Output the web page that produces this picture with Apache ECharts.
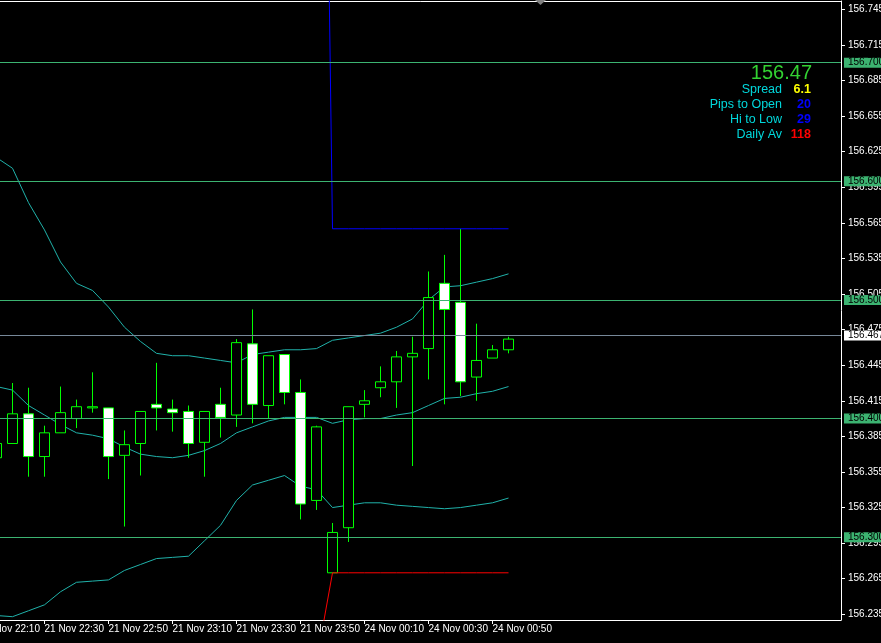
<!DOCTYPE html>
<html>
<head>
<meta charset="utf-8">
<script src="https://cdn.jsdelivr.net/npm/echarts@6/dist/echarts.min.js"></script>
<style>
html,body{margin:0;padding:0;background:#000;overflow:hidden;}
#c{width:881px;height:643px;}
</style>
</head>
<body>
<div id="c"></div>
<script>
// ---- DATA ----
// bar times, bar index -2 .. 31 (5-minute bars)
const barTimes = [
  '21 Nov 22:10','21 Nov 22:15','21 Nov 22:20','21 Nov 22:25','21 Nov 22:30','21 Nov 22:35',
  '21 Nov 22:40','21 Nov 22:45','21 Nov 22:50','21 Nov 22:55','21 Nov 23:00','21 Nov 23:05',
  '21 Nov 23:10','21 Nov 23:15','21 Nov 23:20','21 Nov 23:25','21 Nov 23:30','21 Nov 23:35',
  '21 Nov 23:40','21 Nov 23:45','21 Nov 23:50','21 Nov 23:55','24 Nov 00:00','24 Nov 00:05',
  '24 Nov 00:10','24 Nov 00:15','24 Nov 00:20','24 Nov 00:25','24 Nov 00:30','24 Nov 00:35',
  '24 Nov 00:40','24 Nov 00:45','24 Nov 00:50','24 Nov 00:55'
];
const timeIndexOffset = 2;   // barTimes[0] is bar index -2
const firstBar = -1;         // first candle index (21 Nov 22:15)

const opens  = [156.367,156.379,156.404,156.368,156.388,156.400,156.409,156.409,156.369,156.379,156.412,156.408,156.406,156.380,156.412,156.403,156.463,156.411,156.454,156.422,156.331,156.270,156.308,156.412,156.426,156.431,156.452,156.459,156.514,156.498,156.435,156.451,156.458];
const closes = [156.379,156.404,156.368,156.388,156.405,156.410,156.410,156.368,156.378,156.406,156.409,156.405,156.379,156.406,156.401,156.464,156.412,156.453,156.422,156.328,156.393,156.304,156.410,156.415,156.431,156.452,156.455,156.502,156.492,156.431,156.449,156.458,156.467];
const lows   = [156.365,156.379,156.351,156.351,156.388,156.392,156.405,156.349,156.309,156.352,156.390,156.389,156.367,156.351,156.384,156.393,156.396,156.400,156.412,156.315,156.323,156.270,156.296,156.401,156.418,156.409,156.360,156.433,156.412,156.419,156.415,156.451,156.455];
const highs  = [156.381,156.430,156.426,156.394,156.427,156.416,156.439,156.409,156.390,156.406,156.447,156.416,156.411,156.406,156.426,156.467,156.492,156.453,156.454,156.433,156.394,156.312,156.410,156.424,156.444,156.457,156.469,156.524,156.538,156.560,156.480,156.462,156.469];

// Bollinger bands, bar index -1 .. 31
const bbUpper  = [156.620,156.611,156.582,156.559,156.532,156.514,156.508,156.494,156.477,156.465,156.455,156.453,156.453,156.451,156.449,156.447,156.454,156.456,156.458,156.458,156.459,156.466,156.468,156.470,156.472,156.477,156.484,156.500,156.511,156.512,156.515,156.518,156.522];
const bbMiddle = [156.427,156.424,156.411,156.403,156.395,156.388,156.386,156.383,156.376,156.370,156.368,156.367,156.369,156.373,156.379,156.388,156.393,156.398,156.401,156.401,156.401,156.396,156.399,156.400,156.400,156.403,156.405,156.411,156.417,156.418,156.421,156.423,156.427];
const bbLower  = [156.234,156.233,156.238,156.243,156.254,156.262,156.263,156.264,156.272,156.277,156.282,156.283,156.284,156.297,156.310,156.331,156.344,156.348,156.352,156.343,156.340,156.325,156.327,156.329,156.329,156.327,156.326,156.325,156.324,156.325,156.327,156.329,156.333];

// day high / day low lines, bar index 19 .. 31
const dayLineStart = 19;
const dayHigh = [157.530,156.560,156.560,156.560,156.560,156.560,156.560,156.560,156.560,156.560,156.560,156.560,156.560];
const dayLow  = [156.195,156.270,156.270,156.270,156.270,156.270,156.270,156.270,156.270,156.270,156.270,156.270,156.270];

// horizontal price levels and current bid
const levels = [156.700, 156.600, 156.500, 156.400, 156.300];
const bidPrice = 156.467;

// tick labels
const xTickBars = [-2, 2, 6, 10, 14, 18, 22, 26, 30];
const yTicks = [156.235,156.265,156.295,156.325,156.355,156.385,156.415,156.445,156.475,156.505,156.535,156.565,156.595,156.625,156.655,156.685,156.715,156.745];

// info panel
const infoPrice = '156.47';
const infoLabels = ['Spread', 'Pips to Open', 'Hi to Low', 'Daily Av'];
const infoValues = ['6.1', '20', '29', '118'];
const infoValueColors = ['#ffff00', '#0000ff', '#0000ff', '#ff0000'];

// ---- CHART ----
const FONT = 'Liberation Sans, Arial, sans-serif';
const chart = echarts.init(document.getElementById('c'), null, {renderer: 'canvas', width: 881, height: 643});

const candleData = opens.map((o, k) => [k + firstBar, o, closes[k], lows[k], highs[k]]);
const toXY = (arr, start) => arr.map((v, k) => [k + start, v]);

// 16 px per bar, bar 0 centred at x = 12.5, plot right edge at x = 841
const X_MIN = -2, X_MAX = 51.78125;
const Y_MIN = 156.23021, Y_MAX = 156.752;

const levelLines = levels.map(v => ({
  name: v.toFixed(3),
  yAxis: v,
  lineStyle: {color: '#3cb371', width: 1, type: 'solid'},
  label: {backgroundColor: '#3cb371', color: '#000'}
}));
levelLines.push({
  name: bidPrice.toFixed(3),
  yAxis: bidPrice,
  lineStyle: {color: '#778899', width: 1, type: 'solid'},
  label: {backgroundColor: '#ffffff', color: '#000'}
});

const graphics = [];
graphics.push({type: 'polygon', shape: {points: [[535, 0], [546, 0], [540.5, 5]]}, style: {fill: '#808080'}, z: 100});
graphics.push({type: 'text', x: 812, y: 73, z: 100,
  style: {text: infoPrice, fill: '#32d232', font: '20px ' + FONT, align: 'right', verticalAlign: 'middle'}});
infoLabels.forEach((t, k) => {
  const y = 89.5 + k * 15;
  graphics.push({type: 'text', x: 782, y: y, z: 100,
    style: {text: t, fill: '#00d8dc', font: '12.5px ' + FONT, align: 'right', verticalAlign: 'middle'}});
  graphics.push({type: 'text', x: 811, y: y, z: 100,
    style: {text: infoValues[k], fill: infoValueColors[k], font: 'bold 12.5px ' + FONT, align: 'right', verticalAlign: 'middle'}});
});

const option = {
  animation: false,
  backgroundColor: '#000',
  grid: {left: -19.5, right: 40, top: 1, bottom: 23, containLabel: false, outerBoundsMode: 'none'},
  xAxis: [{
    type: 'value', min: X_MIN, max: X_MAX, position: 'bottom',
    axisLine: {show: true, onZero: false, lineStyle: {color: '#ffffff', width: 1}},
    axisTick: {show: true, customValues: xTickBars, length: 4, lineStyle: {color: '#ffffff'}},
    axisLabel: {show: true, customValues: xTickBars, color: '#ffffff', fontSize: 10, fontFamily: FONT,
      align: 'left', margin: 4,
      formatter: v => barTimes[Math.round(v) + timeIndexOffset] || ''},
    splitLine: {show: false}
  }, {
    type: 'value', min: X_MIN, max: X_MAX, position: 'top',
    axisLine: {show: true, onZero: false, lineStyle: {color: '#ffffff', width: 1}},
    axisTick: {show: false}, axisLabel: {show: false}, splitLine: {show: false}
  }],
  yAxis: {
    type: 'value', min: Y_MIN, max: Y_MAX, position: 'right', scale: true,
    axisLine: {show: true, onZero: false, lineStyle: {color: '#ffffff', width: 1}},
    axisTick: {show: true, customValues: yTicks, length: 4, lineStyle: {color: '#ffffff'}},
    axisLabel: {show: true, customValues: yTicks, color: '#ffffff', fontSize: 10, fontFamily: FONT,
      margin: 7, formatter: v => v.toFixed(3)},
    splitLine: {show: false}
  },
  graphic: graphics,
  series: [
    {
      type: 'line', name: 'upper', data: toXY(bbUpper, firstBar), symbol: 'none', z: 1,
      lineStyle: {color: '#20b2aa', width: 1}, silent: true,
      markLine: {
        silent: true, symbol: 'none', animation: false,
        label: {show: true, position: 'end', distance: 3, fontSize: 10, fontFamily: FONT,
          lineHeight: 10, padding: [0, 4, 0, 4], formatter: p => p.name},
        data: levelLines
      }
    },
    {type: 'line', name: 'middle', data: toXY(bbMiddle, firstBar), symbol: 'none', z: 1,
      lineStyle: {color: '#20b2aa', width: 1}, silent: true},
    {type: 'line', name: 'lower', data: toXY(bbLower, firstBar), symbol: 'none', z: 1,
      lineStyle: {color: '#20b2aa', width: 1}, silent: true},
    {
      type: 'candlestick', name: 'price', data: candleData,
      encode: {x: 0, y: [1, 2, 3, 4]},
      barWidth: 10, z: 3,
      itemStyle: {color: '#000000', color0: '#ffffff', borderColor: '#00ff00', borderColor0: '#00ff00',
        borderColorDoji: '#00ff00', borderWidth: 1}
    },
    {type: 'line', name: 'dayHigh', data: toXY(dayHigh, dayLineStart), symbol: 'none', z: 4,
      lineStyle: {color: '#0000ff', width: 1}, silent: true},
    {type: 'line', name: 'dayLow', data: toXY(dayLow, dayLineStart), symbol: 'none', z: 4,
      lineStyle: {color: '#ff0000', width: 1}, silent: true}
  ]
};
chart.setOption(option);
</script>
</body>
</html>
